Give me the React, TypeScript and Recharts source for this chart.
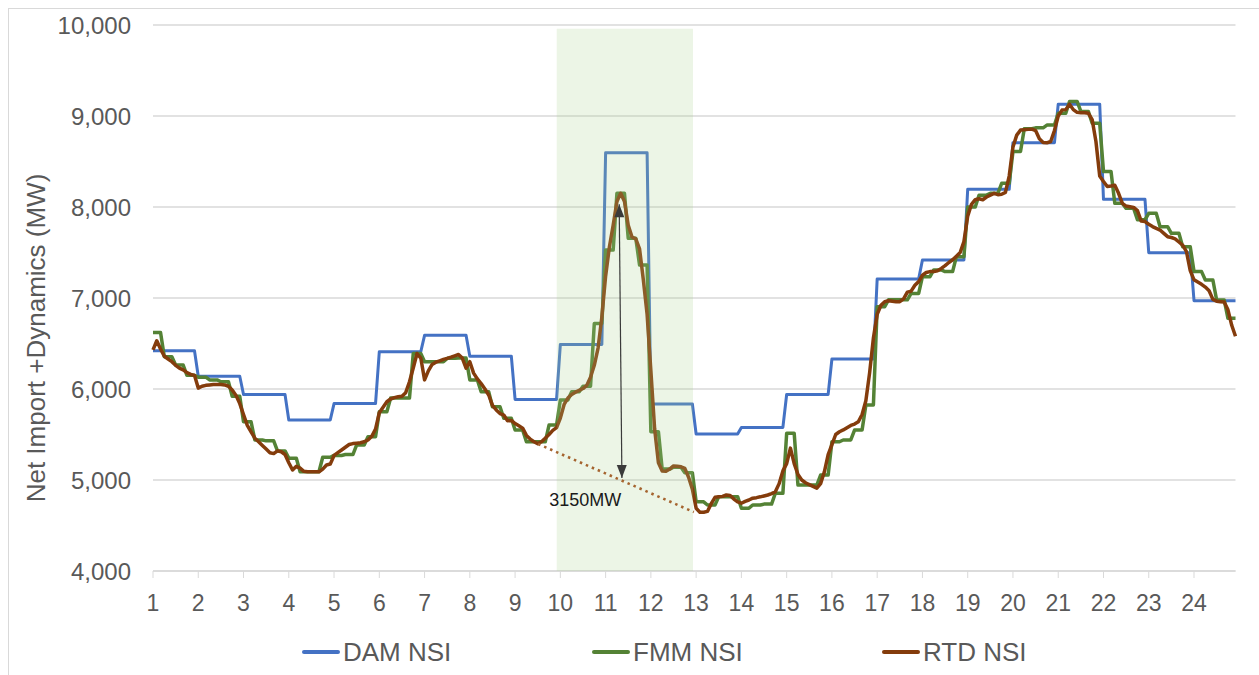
import React from 'react';
import {
  LineChart,
  Line,
  XAxis,
  YAxis,
  CartesianGrid,
  ReferenceArea,
  ReferenceLine,
  ReferenceDot,
} from 'recharts';

// hourly day-ahead schedule (one value per hour, 1..24)
const DAM_NSI = [
  6420, 6140, 5940, 5660, 5840, 6410, 6590, 6360, 5885, 6490, 8595, 5835,
  5505, 5578, 5940, 6330, 7210, 7418, 8194, 8707, 9130, 8084, 7498, 6970,
];

// 15-minute market, four intervals per hour
const FMM_NSI = [
  6620, 6355, 6264, 6150, 6130, 6100, 6080, 5920, 5640, 5440, 5430, 5320,
  5240, 5090, 5090, 5250, 5270, 5280, 5385, 5476, 5750, 5900, 5900, 6390,
  6300, 6300, 6337, 6340, 6100, 5970, 5805, 5678, 5550, 5420, 5420, 5604,
  5880, 5970, 6030, 6720, 7527, 8150, 7656, 7363, 5530, 5120, 5140, 5080,
  4760, 4725, 4817, 4817, 4690, 4725, 4735, 4854, 5513, 4945, 4945, 5055,
  5420, 5440, 5549, 5824, 6905, 6980, 6980, 7050, 7234, 7308, 7290, 7454,
  8000, 8130, 8150, 8260, 8610, 8860, 8870, 8900, 9030, 9160, 9050, 8920,
  8390, 8040, 7985, 7860, 7930, 7784, 7711, 7564, 7290, 7198, 6978, 6777,
];

// 5-minute real-time dispatch, twelve intervals per hour
const RTD_NSI = [
  6430, 6530, 6440, 6360, 6330, 6300, 6260, 6230, 6210, 6180, 6160, 6150,
  6010, 6030, 6040, 6045, 6050, 6050, 6050, 6045, 6030, 5990, 5930, 5840,
  5720, 5600, 5530, 5460, 5420, 5380, 5340, 5300, 5290, 5320, 5310, 5280,
  5190, 5110, 5150, 5130, 5095, 5090, 5090, 5090, 5090, 5120, 5165, 5175,
  5270, 5300, 5330, 5360, 5390, 5400, 5405, 5410, 5420, 5440, 5480, 5560,
  5740, 5800, 5860, 5890, 5905, 5915, 5920, 5960, 6080, 6230, 6390, 6340,
  6100, 6200, 6270, 6295, 6310, 6325, 6337, 6350, 6365, 6380, 6340, 6230,
  6300, 6175, 6110, 6060, 6000, 5934, 5820, 5770, 5730, 5714, 5650, 5655,
  5620, 5595, 5570, 5490, 5450, 5420, 5398, 5420, 5460, 5500, 5545, 5575,
  5680, 5830, 5900, 5940, 5965, 5985, 6005, 6040, 6130, 6260, 6450, 6790,
  7240, 7560, 7800, 8060, 8150, 8060, 7800, 7670, 7650, 7540, 7200, 6820,
  6200, 5560, 5190, 5100, 5095, 5120, 5155, 5150, 5145, 5128, 5030, 4900,
  4690, 4645, 4645, 4655, 4740, 4810, 4815, 4820, 4835, 4830, 4790, 4760,
  4745, 4765, 4780, 4800, 4806, 4815, 4825, 4835, 4850, 4870, 4960, 5100,
  5180, 5350, 5180, 5060, 5000, 4970, 4950, 4930, 4910, 4960, 5090, 5280,
  5390, 5500, 5530, 5550, 5575, 5600, 5615, 5640, 5720, 5870, 6180, 6560,
  6820, 6920, 6960, 6970, 6965, 6960, 6960, 6990, 7065, 7075, 7140, 7180,
  7250, 7280, 7290, 7290, 7300, 7325, 7355, 7390, 7420, 7460, 7500, 7620,
  7900, 8030, 8080, 8090, 8080, 8110, 8130, 8150, 8135, 8140, 8160, 8340,
  8660, 8790, 8845, 8850, 8853, 8855, 8840, 8750, 8710, 8705, 8720, 8840,
  9000, 9065, 9070, 9130, 9070, 9040, 9036, 9036, 9030, 8960, 8720, 8340,
  8280, 8225, 8230, 8240, 8150, 8040, 8010, 8003, 7995, 7960, 7845, 7840,
  7810, 7785, 7765, 7747, 7710, 7674, 7665, 7650, 7615, 7580, 7510, 7300,
  7200, 7175, 7150, 7120, 7080, 6985, 6965, 6960, 6955, 6870, 6700, 6580,
];

const HOUR_TICKS = [1, 2, 3, 4, 5, 6, 7, 8, 9, 10, 11, 12, 13, 14, 15, 16, 17, 18, 19, 20, 21, 22, 23, 24];
const MW_TICKS = [4000, 5000, 6000, 7000, 8000, 9000, 10000];

// shaded window, ramp drop and the annotation
const HIGHLIGHT = { from: 9.92, to: 12.93, low: 4000, high: 9960 };
const DROP_LINE = [
  { x: 9.51, y: 5395 },
  { x: 12.95, y: 4648 },
];
const ARROW = [
  { x: 11.3, y: 8030 },
  { x: 11.36, y: 5022 },
];
const ARROW_TEXT = { x: 10.55, y: 4780, text: '3150MW' };

const LEGEND = [
  { name: 'DAM NSI', color: '#4472C4', left: 302 },
  { name: 'FMM NSI', color: '#548235', left: 592 },
  { name: 'RTD NSI', color: '#843C0C', left: 882 },
];

const rows = RTD_NSI.map((v, i) => ({
  x: 1 + i / 12,
  dam: DAM_NSI[Math.floor(i / 12)],
  fmm: FMM_NSI[Math.floor(i / 3)],
  rtd: v,
}));

const FONT = "'Liberation Sans', Arial, sans-serif";
const GREY = '#595959';

const Arrow = (p: any) => {
  const { x1, y1, x2, y2 } = p;
  const dx = x2 - x1;
  const dy = y2 - y1;
  const len = Math.sqrt(dx * dx + dy * dy) || 1;
  const ux = dx / len;
  const uy = dy / len;
  const head = 13;
  const half = 5;
  const tri = (tx: number, ty: number, dirx: number, diry: number) => {
    const bx = tx - dirx * head;
    const by = ty - diry * head;
    return `${tx},${ty} ${bx - diry * half},${by + dirx * half} ${bx + diry * half},${by - dirx * half}`;
  };
  return (
    <g>
      <line x1={x1} y1={y1} x2={x2} y2={y2} stroke="#3a3a3a" strokeWidth={1.2} />
      <polygon points={tri(x1, y1, -ux, -uy)} fill="#3a3a3a" />
      <polygon points={tri(x2, y2, ux, uy)} fill="#3a3a3a" />
    </g>
  );
};

export default function App() {
  return (
    <div
      style={{
        position: 'fixed',
        left: 0,
        top: 0,
        width: 1259,
        height: 675,
        overflow: 'hidden',
        background: '#fff',
        fontFamily: FONT,
      }}
    >
      <div
        style={{
          position: 'absolute',
          left: 8,
          top: 8,
          width: 1262,
          height: 680,
          border: '1px solid #d9d9d9',
        }}
      />
      <div style={{ position: 'absolute', left: 0, top: 0 }}>
        <LineChart
          width={1259}
          height={675}
          data={rows}
          margin={{ top: 25, right: 23.5, bottom: 0, left: 0 }}
        >
          <CartesianGrid vertical={false} stroke="#d9d9d9" strokeWidth={1.3} />
          <XAxis
            dataKey="x"
            type="number"
            domain={[1, 1 + (RTD_NSI.length - 1) / 12]}
            ticks={HOUR_TICKS}
            interval={0}
            height={104}
            tickSize={7}
            tickMargin={17}
            axisLine={{ stroke: '#d9d9d9', strokeWidth: 1.3 }}
            tickLine={{ stroke: '#d9d9d9' }}
            tick={{ fill: GREY, fontSize: 23, fontFamily: FONT }}
          />
          <YAxis
            type="number"
            domain={[4000, 10000]}
            ticks={MW_TICKS}
            interval={0}
            width={153}
            axisLine={false}
            tickLine={false}
            tickSize={0}
            tickMargin={22}
            tickFormatter={(v: number) => v.toLocaleString('en-US')}
            tick={{ fill: GREY, fontSize: 24, fontFamily: FONT }}
          />
          <Line
            type="linear"
            dataKey="dam"
            stroke="#4472C4"
            strokeWidth={3}
            dot={false}
            activeDot={false}
            isAnimationActive={false}
            strokeLinejoin="round"
          />
          <Line
            type="linear"
            dataKey="fmm"
            stroke="#548235"
            strokeWidth={3.5}
            dot={false}
            activeDot={false}
            isAnimationActive={false}
            strokeLinejoin="round"
          />
          <Line
            type="linear"
            dataKey="rtd"
            stroke="#843C0C"
            strokeWidth={3.5}
            dot={false}
            activeDot={false}
            isAnimationActive={false}
            strokeLinejoin="round"
          />
          <ReferenceArea
            x1={HIGHLIGHT.from}
            x2={HIGHLIGHT.to}
            y1={HIGHLIGHT.low}
            y2={HIGHLIGHT.high}
            fill="#a9d18e"
            fillOpacity={0.22}
            stroke="none"
            zIndex={1000}
          />
          <ReferenceLine
            segment={DROP_LINE}
            stroke="#a5642f"
            strokeWidth={2.6}
            strokeDasharray="2.5 4"
            zIndex={1100}
          />
          <ReferenceLine segment={ARROW} shape={Arrow} zIndex={1100} />
          <ReferenceDot
            x={ARROW_TEXT.x}
            y={ARROW_TEXT.y}
            r={0}
            zIndex={1100}
            shape={(p: any) => (
              <text
                x={p.cx}
                y={p.cy}
                textAnchor="middle"
                dominantBaseline="central"
                fontSize={18}
                fontFamily={FONT}
                fill="#1a1a1a"
              >
                {ARROW_TEXT.text}
              </text>
            )}
          />
        </LineChart>
      </div>
      <div
        style={{
          position: 'absolute',
          left: 36,
          top: 338,
          transform: 'translate(-50%, -50%) rotate(-90deg)',
          whiteSpace: 'nowrap',
          fontSize: 26,
          color: GREY,
        }}
      >
        Net Import +Dynamics (MW)
      </div>
      {LEGEND.map((item) => (
        <div
          key={item.name}
          style={{
            position: 'absolute',
            left: item.left,
            top: 636,
            height: 32,
            display: 'flex',
            alignItems: 'center',
            fontSize: 26,
            color: GREY,
            whiteSpace: 'nowrap',
          }}
        >
          <span
            style={{
              display: 'inline-block',
              width: 38,
              height: 4,
              background: item.color,
              borderRadius: 2,
              marginRight: 3,
            }}
          />
          {item.name}
        </div>
      ))}
    </div>
  );
}
